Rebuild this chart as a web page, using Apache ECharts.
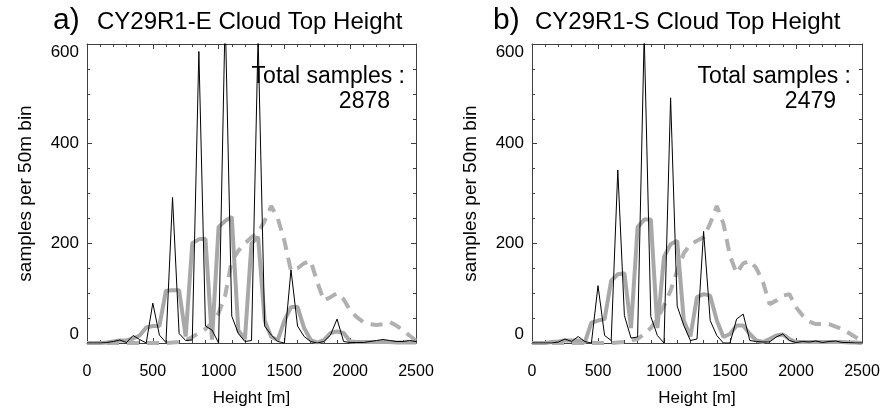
<!DOCTYPE html>
<html><head><meta charset="utf-8">
<script src="https://cdn.jsdelivr.net/npm/echarts@6/dist/echarts.min.js"></script>
<style>html,body{margin:0;padding:0;background:#fff}#c{width:885px;height:414px}</style>
</head><body><div id="c"></div><script>
const heights = [0,50,100,150,200,250,300,350,400,450,500,550,600,650,700,750,800,850,900,950,1000,1050,1100,1150,1200,1250,1300,1350,1400,1450,1500,1550,1600,1650,1700,1750,1800,1850,1900,1950,2000,2050,2100,2150,2200,2250,2300,2350,2400,2450,2500];
const eBlack = [0,0,0,1,3,6,1,15,7,0, 80,16,1,292,19,5,6,585,34,26, 0,660,54,19,3,5,615,34,16,3, 0,147,34,13,3,0,3,16,48,3, 1,1,1,3,5,7,5,3,3,5, 3];
const eGray  = [0,0,0,1,3,5,5,9,15,31, 34,34,105,106,106,13,200,208,209,7, 233,245,253,25,8,200,213,45,12,6, 45,72,72,30,6,1,6,20,23,20, 3,2,2,2,2,2,2,1,1,1, 1];
const eDash  = [0,0,0,0,0,0,0,0,0,0, 0,0,0,1,2,5,12,20,28,40, 60,95,165,185,200,212,222,245,275,250, 205,145,150,160,165,122,85,92,100,88, 65,52,42,38,36,38,42,35,26,15, 5];
const sBlack = [0,0,0,0,2,8,3,13,3,0, 115,15,5,347,55,10,12,620,53,15, 0,492,74,35,5,8,224,45,15,0, 0,48,58,5,3,2,2,12,18,5, 1,3,2,4,1,3,4,1,1,0, 0];
const sGray  = [0,0,0,2,3,5,5,5,1,41, 45,48,125,138,140,30,232,248,248,30, 173,198,205,45,13,92,98,95,45,12, 18,35,35,18,5,2,8,15,17,8, 2,2,2,2,2,2,2,2,1,1, 0];
const sDash  = [0,0,0,0,0,0,0,0,0,0, 0,0,0,1,2,5,8,18,30,48, 75,105,145,180,198,205,212,240,275,240, 175,140,160,165,150,122,78,85,95,98, 72,55,43,38,38,38,33,28,20,12, 5];
const panelLetters = ['a)', 'b)'];
const panelTitles = ['CY29R1-E Cloud Top Height', 'CY29R1-S Cloud Top Height'];
const totals = ['2878', '2479'];
const xTicks = [0, 500, 1000, 1500, 2000, 2500];
const yTicks = [0, 200, 400, 600];

const FONT = '"Liberation Sans", Arial, Helvetica, sans-serif';
const frame = '#404040';
const pair = (ys) => heights.map((h, i) => [h, ys[i]]);

const grids = [
  {left: 87, top: 44, width: 329, height: 299},
  {left: 532, top: 44, width: 330, height: 299}
];
const letterX = [53, 493];
const titleX = [97, 535];
const xAxes = [], yAxes = [], series = [];
[0, 1].forEach(g => {
  const common = {
    gridIndex: g, type: 'value', min: 0, max: 2500, interval: 500,
    axisLine: {show: true, onZero: false, lineStyle: {color: frame, width: 1}},
    axisTick: {show: true, inside: true, length: 5, lineStyle: {color: frame}},
    minorTick: {show: true, splitNumber: 5, length: 3, lineStyle: {color: frame}},
    splitLine: {show: false}, minorSplitLine: {show: false}
  };
  xAxes.push(Object.assign({}, common, {
    position: 'bottom',
    axisLabel: {fontSize: 16, color: '#000', fontFamily: FONT, margin: 21,
      formatter: v => xTicks.includes(v) ? String(v) : ''},
    name: 'Height [m]', nameLocation: 'middle', nameGap: 47,
    nameTextStyle: {fontSize: 17, color: '#000', fontFamily: FONT}
  }));
  xAxes.push(Object.assign({}, common, {position: 'top', axisLabel: {show: false}}));
  const ycommon = {
    gridIndex: g, type: 'value', min: 0, max: 600, interval: 200,
    axisLine: {show: true, onZero: false, lineStyle: {color: frame, width: 1}},
    axisTick: {show: true, inside: true, length: 5, lineStyle: {color: frame}},
    minorTick: {show: true, splitNumber: 4, length: 3, lineStyle: {color: frame}},
    splitLine: {show: false}, minorSplitLine: {show: false}
  };
  yAxes.push(Object.assign({}, ycommon, {
    position: 'left',
    axisLabel: {fontSize: 17, color: '#000', fontFamily: FONT, margin: 8,
      verticalAlignMinLabel: 'bottom', verticalAlignMaxLabel: 'top',
      formatter: v => yTicks.includes(v) ? String(v) : ''},
    name: 'samples per 50m bin', nameLocation: 'middle', nameRotate: 90, nameGap: 52,
    nameTextStyle: {fontSize: 19, color: '#000', fontFamily: FONT}
  }));
  yAxes.push(Object.assign({}, ycommon, {position: 'right', axisLabel: {show: false}}));
});

const sets = [[eDash, eGray, eBlack], [sDash, sGray, sBlack]];
sets.forEach((s, g) => {
  const base = {type: 'line', xAxisIndex: g * 2, yAxisIndex: g * 2, showSymbol: false,
    symbol: 'none', clip: true, silent: true, animation: false};
  series.push(Object.assign({}, base, {data: pair(s[0]),
    lineStyle: {color: '#b0b0b0', width: 4, type: [12, 8]}}));
  series.push(Object.assign({}, base, {data: pair(s[1]),
    lineStyle: {color: '#a8a8a8', width: 4}}));
  series.push(Object.assign({}, base, {data: pair(s[2]),
    lineStyle: {color: '#000', width: 1}}));
});

const txt = (text, x, y, size, align) => ({
  type: 'text', x: x, y: y, silent: true,
  style: {text: text, x: 0, y: 0, font: size + 'px ' + FONT, fill: '#000',
    align: align, verticalAlign: 'middle', textAlign: align, textVerticalAlign: 'middle'}
});
const graphics = [];
[0, 1].forEach(g => {
  const gr = grids[g].left + grids[g].width;
  graphics.push(txt(panelLetters[g], letterX[g], 21, 30, 'left'));
  graphics.push(txt(panelTitles[g], titleX[g], 22, 24, 'left'));
  graphics.push(txt('Total samples :', gr - 11, 77, 23, 'right'));
  graphics.push(txt(totals[g], gr - 26, 102, 23, 'right'));
});

const chart = echarts.init(document.getElementById('c'), null, {renderer: 'canvas'});
chart.setOption({
  backgroundColor: '#fff', animation: false,
  grid: grids, xAxis: xAxes, yAxis: yAxes, series: series, graphic: graphics
});
</script></body></html>
